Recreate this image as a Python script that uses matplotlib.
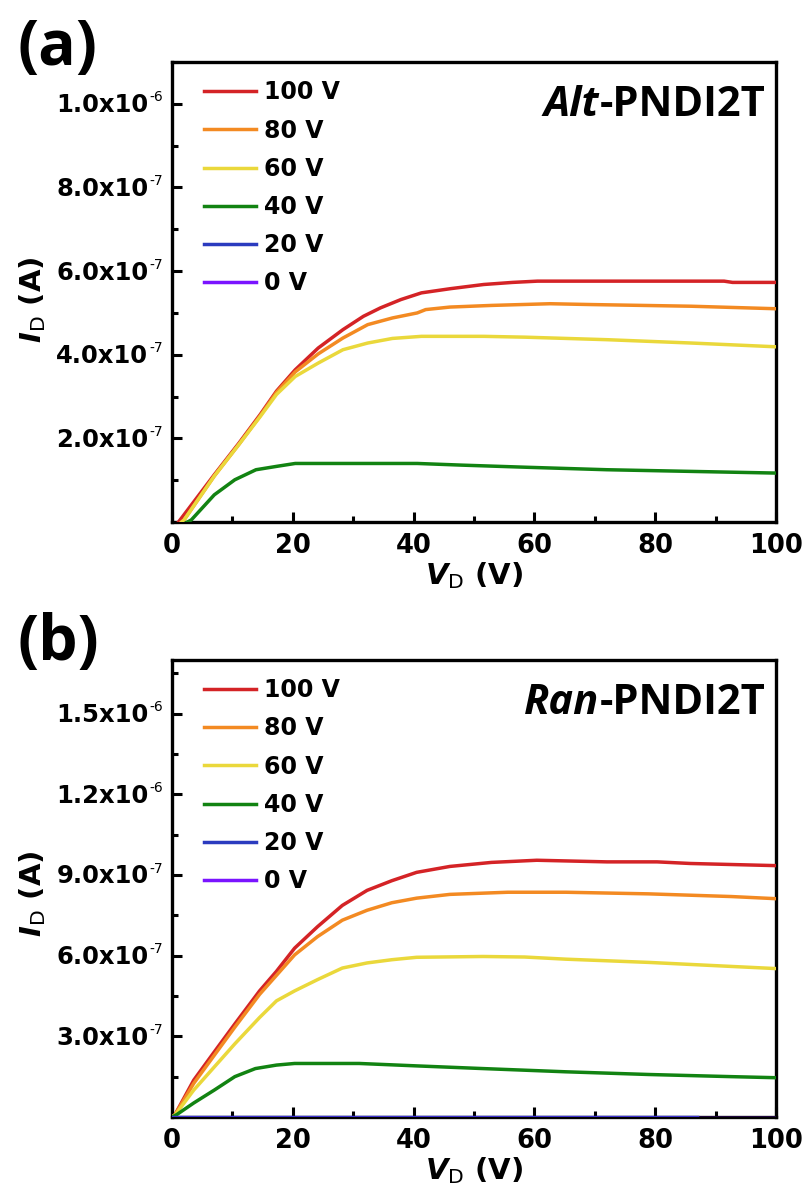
import matplotlib
matplotlib.use('Agg')
import matplotlib.pyplot as plt
import matplotlib.transforms as mtrans
from matplotlib.ticker import FixedLocator, MultipleLocator, NullFormatter

plt.rcParams['font.family'] = 'DejaVu Sans'
plt.rcParams['font.weight'] = 'bold'
plt.rcParams['axes.labelweight'] = 'bold'
plt.rcParams['mathtext.fontset'] = 'custom'
plt.rcParams['mathtext.rm'] = 'DejaVu Sans:weight=normal'
plt.rcParams['mathtext.bf'] = 'DejaVu Sans:bold'
plt.rcParams['mathtext.bfit'] = 'DejaVu Sans:bold:italic'

GATE_LABELS = ['100 V', '80 V', '60 V', '40 V', '20 V', '0 V']
COLORS = ['#d42326', '#f38a22', '#ead83b', '#128312', '#2b3bbf', '#7a14ff']

# ---- (a) Alt-PNDI2T, currents in 1e-7 A
a_v100 = [0, 1.5, 7, 11.1, 14.6, 17.3, 20.4, 24.2, 28.3, 31.7, 34.5, 37.9, 41.3, 46.1, 51.6, 56.4, 60.5, 72, 91.4, 92.8, 100]
a_i100 = [-0.2, 0.08, 1.13, 1.89, 2.57, 3.13, 3.64, 4.16, 4.6, 4.92, 5.12, 5.32, 5.48, 5.58, 5.68, 5.73, 5.76, 5.76, 5.76, 5.73, 5.73]
a_v80 = [0, 2.0, 7, 11.1, 14.6, 17.3, 20.4, 24.2, 28.3, 32.4, 36.5, 40.6, 42, 46, 53, 62.6, 69.5, 86, 100]
a_i80 = [-0.2, 0.05, 1.1, 1.86, 2.54, 3.1, 3.59, 4.02, 4.4, 4.72, 4.88, 5.0, 5.08, 5.14, 5.18, 5.22, 5.2, 5.16, 5.10]
a_v60 = [0, 2.0, 7, 11.1, 14.6, 17.3, 20.4, 24.2, 28.3, 32.4, 36.5, 41.3, 51.6, 58.5, 72, 86, 100]
a_i60 = [-0.2, 0.05, 1.1, 1.86, 2.52, 3.05, 3.48, 3.80, 4.12, 4.28, 4.39, 4.44, 4.44, 4.42, 4.36, 4.28, 4.19]
a_v40 = [0, 3.2, 7, 10.4, 13.9, 17.3, 20.4, 40.6, 48, 58.5, 72, 86, 100]
a_i40 = [-0.2, 0.05, 0.65, 1.01, 1.25, 1.33, 1.40, 1.40, 1.36, 1.31, 1.25, 1.21, 1.17]
a_v20 = [0, 50, 100]
a_i20 = [-0.05, -0.05, -0.05]
a_v0 = [0, 50, 100]
a_i0 = [-0.05, -0.05, -0.05]

# ---- (b) Ran-PNDI2T, currents in 1e-7 A
b_v100 = [0, 0.5, 3.6, 7, 10.4, 14.5, 17.3, 20.3, 24.1, 28.2, 32.3, 36.4, 40.5, 46, 52.9, 60.4, 72, 80.3, 85.8, 100]
b_i100 = [0, 0.09, 1.37, 2.42, 3.46, 4.69, 5.42, 6.28, 7.08, 7.87, 8.43, 8.79, 9.1, 9.32, 9.47, 9.55, 9.49, 9.49, 9.43, 9.35]
b_v80 = [0, 0.5, 3.6, 10.4, 14.5, 20.3, 24.1, 28.2, 32.3, 36.4, 40.5, 46, 55.6, 65.2, 78.9, 92.6, 100]
b_i80 = [0, 0.08, 1.25, 3.34, 4.56, 6.03, 6.71, 7.32, 7.69, 7.97, 8.14, 8.28, 8.36, 8.36, 8.3, 8.2, 8.12]
b_v60 = [0, 0.5, 3.6, 7, 10.4, 14.5, 17.3, 20.3, 24.1, 28.2, 32.3, 36.4, 40.5, 51.5, 58.4, 65.2, 78.9, 92.6, 100]
b_i60 = [0, 0.07, 1.0, 1.86, 2.72, 3.7, 4.32, 4.69, 5.11, 5.54, 5.73, 5.85, 5.94, 5.97, 5.95, 5.87, 5.75, 5.6, 5.52]
b_v40 = [0, 0.8, 3.6, 7, 10.4, 13.8, 17.3, 20.3, 31, 40.5, 51.5, 65.2, 78.9, 92.6, 100]
b_i40 = [0, 0.09, 0.52, 1.0, 1.5, 1.8, 1.93, 1.99, 1.99, 1.9, 1.8, 1.68, 1.58, 1.5, 1.46]
b_v20 = [0, 87]
b_i20 = [0.0, 0.0]
b_v0 = [0, 50, 100]
b_i0 = [-0.05, -0.05, -0.05]

# y tick labels: mantissa and exponent
a_ticks = [2, 4, 6, 8, 10]
a_tick_text = [('2.0x10', '-7'), ('4.0x10', '-7'), ('6.0x10', '-7'), ('8.0x10', '-7'), ('1.0x10', '-6')]
b_ticks = [3, 6, 9, 12, 15]
b_tick_text = [('3.0x10', '-7'), ('6.0x10', '-7'), ('9.0x10', '-7'), ('1.2x10', '-6'), ('1.5x10', '-6')]

panels = [
    dict(tag='(a)', name='Alt', ylim=11.0, major=a_ticks, labels=a_tick_text, minor=1, ylab_y=0.484,
         curves=[(a_v100, a_i100), (a_v80, a_i80), (a_v60, a_i60), (a_v40, a_i40), (a_v20, a_i20), (a_v0, a_i0)]),
    dict(tag='(b)', name='Ran', ylim=17.0, major=b_ticks, labels=b_tick_text, minor=1.5, ylab_y=0.489,
         curves=[(b_v100, b_i100), (b_v80, b_i80), (b_v60, b_i60), (b_v40, b_i40), (b_v20, b_i20), (b_v0, b_i0)]),
]

fig = plt.figure(figsize=(8.03, 12), dpi=100)
rects = [[0.2142, 0.565, 0.7522, 0.3833], [0.2142, 0.0692, 0.7522, 0.3808]]
tag_y = [0.986, 0.49]

for p, rect, ty in zip(panels, rects, tag_y):
    ax = fig.add_axes(rect)
    for (v, i), c, lab in zip(p['curves'], COLORS, GATE_LABELS):
        ax.plot(v, i, color=c, lw=2.5, label=lab, zorder=3)
    ax.set_xlim(0, 100)
    ax.set_ylim(0, p['ylim'])

    ax.xaxis.set_major_locator(MultipleLocator(20))
    ax.xaxis.set_minor_locator(MultipleLocator(10))
    ax.yaxis.set_major_locator(FixedLocator(p['major']))
    ax.yaxis.set_minor_locator(MultipleLocator(p['minor']))
    ax.yaxis.set_major_formatter(NullFormatter())
    ax.tick_params(which='both', direction='in', width=2.2, top=False, right=False)
    ax.tick_params(which='major', length=7)
    ax.tick_params(which='minor', length=4.5)
    ax.tick_params(axis='x', which='major', labelsize=18.5, pad=8)
    for s in ax.spines.values():
        s.set_linewidth(2.4)

    # y tick labels with a small superscript exponent
    trans = mtrans.blended_transform_factory(ax.transAxes, ax.transData)
    for yv, (mant, ex) in zip(p['major'], p['labels']):
        t = ax.annotate(mant, xy=(0, yv), xycoords=trans, xytext=(-17, -1), textcoords='offset points',
                        ha='right', va='center', fontsize=17.5, annotation_clip=False)
        ax.annotate(ex, xy=(1, 1), xycoords=t, xytext=(0.5, 2), textcoords='offset points',
                    ha='left', va='top', fontsize=10, fontweight='normal')

    ax.set_xlabel(r'$\mathbfit{V}_{\mathrm{D}}$ (V)', fontsize=21, labelpad=1)
    ax.set_ylabel(r'$\mathbfit{I}_{\mathrm{D}}$ (A)', fontsize=21)
    ax.yaxis.set_label_coords(-0.205, p['ylab_y'])

    ax.legend(loc='upper left', bbox_to_anchor=(0.053, 0.96), frameon=False,
              fontsize=17, handlelength=2.2, handletextpad=0.35, labelspacing=0.6,
              borderpad=0, borderaxespad=0)

    t1 = ax.text(0.982, 0.905, '-PNDI2T', transform=ax.transAxes, ha='right', va='center',
                 fontsize=30, family='Open Sans', fontweight='bold')
    ax.annotate(p['name'], xy=(0, 0.5), xycoords=t1, ha='right', va='center',
                fontsize=30, family='Open Sans', fontweight='bold', fontstyle='italic')

    fig.text(0.022, ty, p['tag'], ha='left', va='top', fontsize=45, family='Open Sans', fontweight='bold')

fig.savefig('out.png', dpi=100)
